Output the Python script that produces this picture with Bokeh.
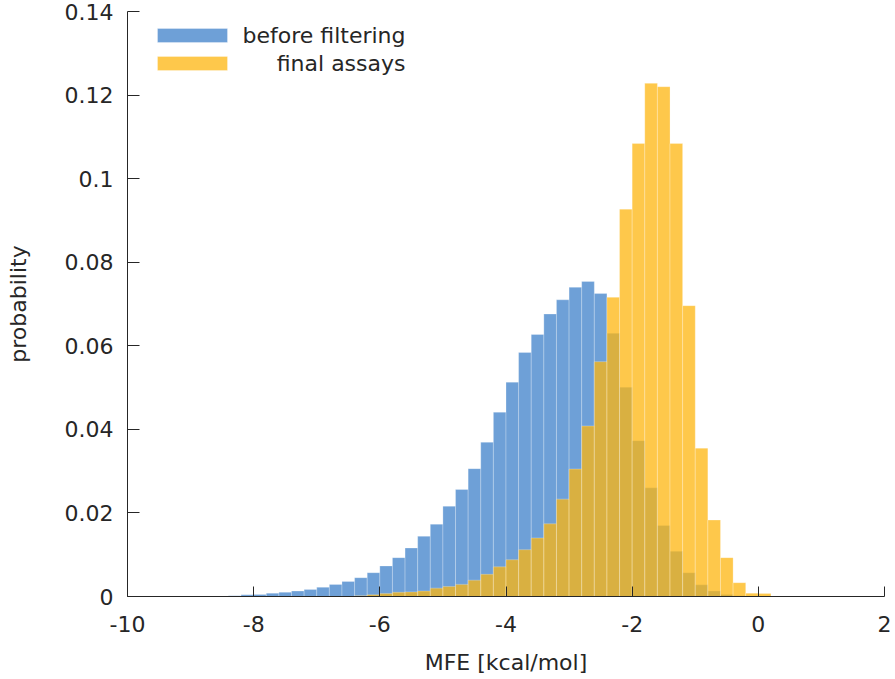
import numpy as np
from bokeh.plotting import figure
from bokeh.models import ColumnDataSource, FixedTicker, Label, BoxAnnotation, Range1d
from bokeh.embed import file_html
from bokeh.resources import INLINE

# ---- data ----
BIN_WIDTH = 0.2
bin_left = [-8.6, -8.4, -8.2, -8.0, -7.8, -7.6, -7.4, -7.2, -7.0, -6.8, -6.6,
            -6.4, -6.2, -6.0, -5.8, -5.6, -5.4, -5.2, -5.0, -4.8, -4.6, -4.4,
            -4.2, -4.0, -3.8, -3.6, -3.4, -3.2, -3.0, -2.8, -2.6, -2.4, -2.2,
            -2.0, -1.8, -1.6, -1.4, -1.2, -1.0, -0.8, -0.6, -0.4, -0.2, 0.0]
before_filtering = [0.0001, 0.0002, 0.0004, 0.0005, 0.0008, 0.0010, 0.0013, 0.0017, 0.0022, 0.0029, 0.0036,
                    0.0045, 0.0057, 0.0073, 0.0093, 0.0116, 0.0144, 0.0173, 0.0216, 0.0256, 0.0306, 0.0369,
                    0.0441, 0.0513, 0.0584, 0.0627, 0.0676, 0.0710, 0.0740, 0.0754, 0.0725, 0.0630, 0.0501,
                    0.0373, 0.0260, 0.0170, 0.0108, 0.0057, 0.0028, 0.0013, 0.0005, 0.0002, 0.0, 0.0]
final_assays = [0.0, 0.0, 0.0, 0.0, 0.0, 0.0, 0.0, 0.0, 0.0, 0.0, 0.0,
                0.0002, 0.0004, 0.0007, 0.0010, 0.0011, 0.0013, 0.0020, 0.0024, 0.0029, 0.0039, 0.0053,
                0.0071, 0.0088, 0.0112, 0.0140, 0.0174, 0.0233, 0.0305, 0.0408, 0.0562, 0.0716, 0.0927,
                0.1084, 0.1228, 0.1220, 0.1084, 0.0696, 0.0355, 0.0183, 0.0093, 0.0033, 0.0008, 0.0007]
series_names = ["before filtering", "final assays"]
x_ticks = [-10, -8, -6, -4, -2, 0, 2]
x_tick_labels = ["-10", "-8", "-6", "-4", "-2", "0", "2"]
y_ticks = [0, 0.02, 0.04, 0.06, 0.08, 0.1, 0.12, 0.14]
y_tick_labels = ["0", "0.02", "0.04", "0.06", "0.08", "0.1", "0.12", "0.14"]

# ---- styles ----
FONT = "DejaVu Sans"
TXT = "#262626"
BLUE = "#3e80ca"
YELLOW = "#feb60f"
ALPHA = 0.75

left = np.array(bin_left)
right = left + BIN_WIDTH
src_b = ColumnDataSource(dict(left=left, right=right, top=before_filtering, bottom=[0] * len(left)))
src_y = ColumnDataSource(dict(left=left, right=right, top=final_assays, bottom=[0] * len(left)))

p = figure(frame_width=757, frame_height=585, output_backend="svg", toolbar_location=None,
           x_range=Range1d(-10, 2), y_range=Range1d(0, 0.14),
           min_border_left=127, min_border_right=11, min_border_top=11, min_border_bottom=83,
           background_fill_color="white", border_fill_color="white")
p.outline_line_color = None
p.grid.visible = False

p.quad(left="left", right="right", top="top", bottom="bottom", source=src_b,
       fill_color=BLUE, fill_alpha=ALPHA, line_color="white", line_alpha=0.25, line_width=1)
p.quad(left="left", right="right", top="top", bottom="bottom", source=src_y,
       fill_color=YELLOW, fill_alpha=ALPHA, line_color="white", line_alpha=0.25, line_width=1)

for ax in (p.xaxis[0], p.yaxis[0]):
    ax.axis_line_color = TXT
    ax.major_tick_line_color = TXT
    ax.major_tick_out = 0
    ax.minor_tick_line_color = None
    ax.major_label_text_font = FONT
    ax.major_label_text_font_size = "22px"
    ax.major_label_text_color = TXT
    ax.axis_label_text_font = FONT
    ax.axis_label_text_font_size = "22px"
    ax.axis_label_text_font_style = "normal"
    ax.axis_label_text_color = TXT

p.xaxis.major_tick_in = 10
p.yaxis.major_tick_in = 12
p.xaxis.ticker = FixedTicker(ticks=x_ticks)
p.xaxis.major_label_overrides = dict(zip(x_ticks, x_tick_labels))
p.yaxis.ticker = FixedTicker(ticks=y_ticks)
p.yaxis.major_label_overrides = dict(zip(y_ticks, y_tick_labels))
p.xaxis.axis_label = "MFE [kcal/mol]"
p.yaxis.axis_label = "probability"
p.xaxis.major_label_standoff = 19
p.yaxis.major_label_standoff = 14
p.xaxis.axis_label_standoff = 15
p.yaxis.axis_label_standoff = 31

# ---- legend (gnuplot style: swatch left, text right-aligned) ----
for i, (name, col) in enumerate(zip(series_names, [BLUE, YELLOW])):
    yc = 561 - 28 * i
    p.add_layout(BoxAnnotation(left=30, right=100, bottom=yc - 7, top=yc + 7,
                               left_units="screen", right_units="screen",
                               bottom_units="screen", top_units="screen",
                               fill_color=col, fill_alpha=ALPHA, line_color="white", line_alpha=0.3))
    p.add_layout(Label(x=278, y=yc, x_units="screen", y_units="screen", text=name,
                       text_align="right", text_baseline="middle", text_font=FONT,
                       text_font_size="22px", text_color=TXT))

open("out.html", "w").write(file_html(p, INLINE))
